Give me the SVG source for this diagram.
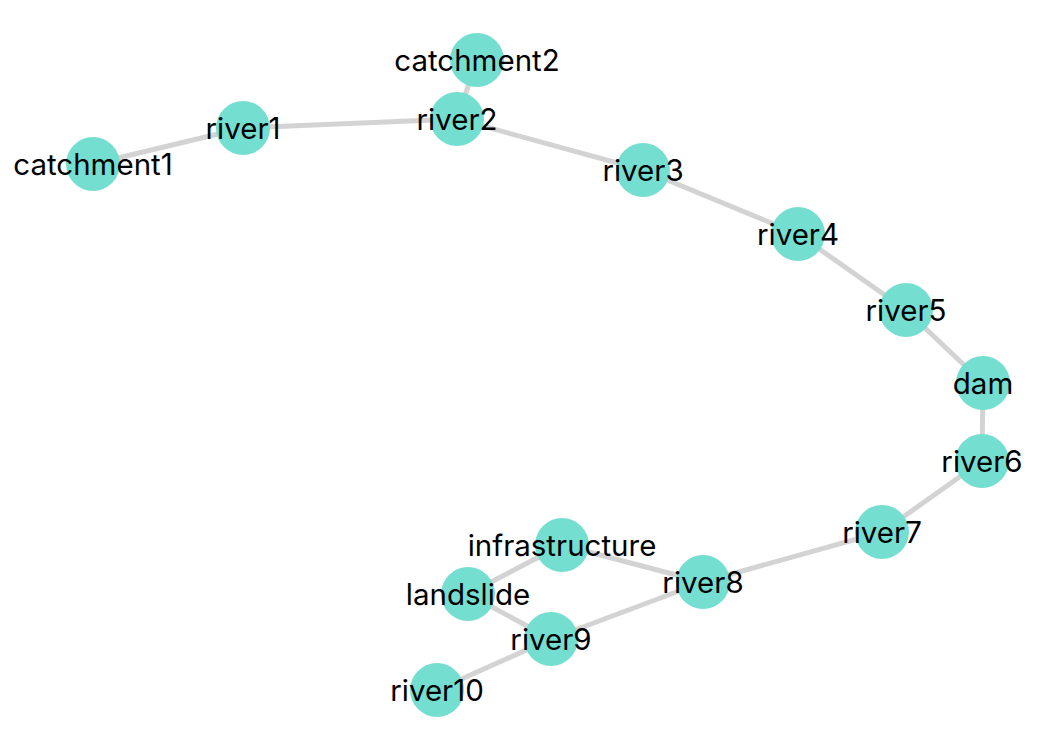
<svg xmlns="http://www.w3.org/2000/svg" width="1046" height="746" viewBox="0 0 1046 746">
  <style>
    .edge { stroke: #d3d3d3; stroke-width: 5; stroke-linecap: round; }
    .node circle { fill: #74ded0; }
    .node text { font-family: Inter, "Liberation Sans", Arial, sans-serif; font-size: 29.5px; fill: #000; text-anchor: middle; }
  </style>
  <rect width="1046" height="746" fill="#ffffff"/>
  <g id="edges">
    <line class="edge" x1="93" y1="164" x2="243" y2="128"/>
    <line class="edge" x1="243" y1="128" x2="457" y2="119"/>
    <line class="edge" x1="477" y1="60" x2="457" y2="119"/>
    <line class="edge" x1="457" y1="119" x2="643" y2="170"/>
    <line class="edge" x1="643" y1="170" x2="798" y2="234"/>
    <line class="edge" x1="798" y1="234" x2="906" y2="310"/>
    <line class="edge" x1="906" y1="310" x2="983" y2="383"/>
    <line class="edge" x1="983" y1="383" x2="982" y2="461"/>
    <line class="edge" x1="982" y1="461" x2="882" y2="532"/>
    <line class="edge" x1="882" y1="532" x2="703" y2="582"/>
    <line class="edge" x1="703" y1="582" x2="562" y2="545"/>
    <line class="edge" x1="703" y1="582" x2="551" y2="639"/>
    <line class="edge" x1="562" y1="545" x2="468" y2="594"/>
    <line class="edge" x1="468" y1="594" x2="551" y2="639"/>
    <line class="edge" x1="551" y1="639" x2="437" y2="690"/>
  </g>
  <g id="node-catchment1" class="node"><circle cx="93" cy="164" r="27"/><text x="93" y="175">catchment1</text></g>
  <g id="node-river1" class="node"><circle cx="243" cy="128" r="27"/><text x="243" y="139">river1</text></g>
  <g id="node-catchment2" class="node"><circle cx="477" cy="60" r="27"/><text x="477" y="71">catchment2</text></g>
  <g id="node-river2" class="node"><circle cx="457" cy="119" r="27"/><text x="457" y="130">river2</text></g>
  <g id="node-river3" class="node"><circle cx="643" cy="170" r="27"/><text x="643" y="181">river3</text></g>
  <g id="node-river4" class="node"><circle cx="798" cy="234" r="27"/><text x="798" y="245">river4</text></g>
  <g id="node-river5" class="node"><circle cx="906" cy="310" r="27"/><text x="906" y="321">river5</text></g>
  <g id="node-dam" class="node"><circle cx="983" cy="383" r="27"/><text x="983" y="394">dam</text></g>
  <g id="node-river6" class="node"><circle cx="982" cy="461" r="27"/><text x="982" y="472">river6</text></g>
  <g id="node-river7" class="node"><circle cx="882" cy="532" r="27"/><text x="882" y="543">river7</text></g>
  <g id="node-river8" class="node"><circle cx="703" cy="582" r="27"/><text x="703" y="593">river8</text></g>
  <g id="node-infrastructure" class="node"><circle cx="562" cy="545" r="27"/><text x="562" y="556">infrastructure</text></g>
  <g id="node-landslide" class="node"><circle cx="468" cy="594" r="27"/><text x="468" y="605">landslide</text></g>
  <g id="node-river9" class="node"><circle cx="551" cy="639" r="27"/><text x="551" y="650">river9</text></g>
  <g id="node-river10" class="node"><circle cx="437" cy="690" r="27"/><text x="437" y="701">river10</text></g>
</svg>
